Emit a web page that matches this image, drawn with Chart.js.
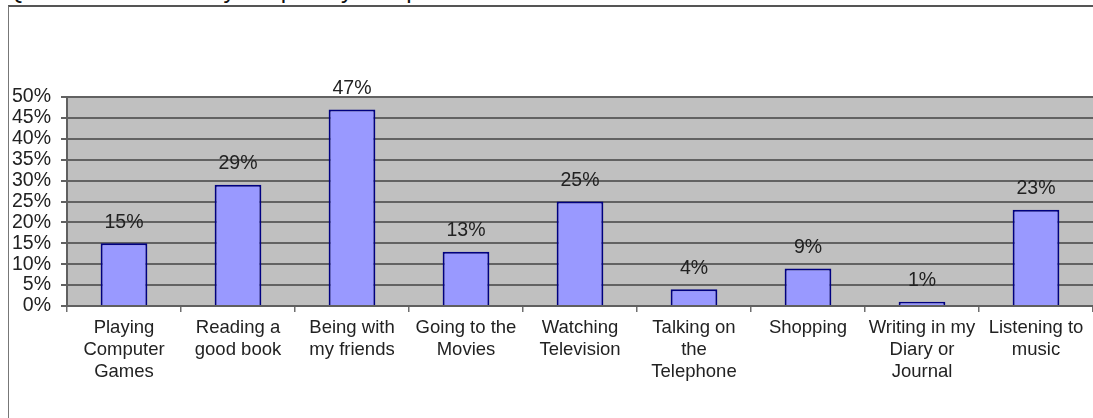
<!DOCTYPE html>
<html>
<head>
<meta charset="utf-8">
<script src="https://cdn.jsdelivr.net/npm/chart.js@4/dist/chart.umd.min.js"></script>
<style>
  html, body { margin: 0; padding: 0; background: #fff; overflow: hidden; }
  #wrap { position: relative; width: 1093px; height: 418px; }
  #question {
    position: absolute; left: 6px; top: -22px;
    font: 24px "Liberation Sans", Arial, sans-serif; line-height: 24px;
    color: #111; white-space: nowrap;
  }
  #frame {
    position: absolute; left: 8px; top: 5px; width: 1100px; height: 430px;
    border-top: 2px solid #555; border-left: 1px solid #777;
  }
  #chart { position: absolute; left: 0; top: 0; }
</style>
</head>
<body>
<div id="wrap">
  <div id="question">Question 4: How do you spend your spare time?</div>
  <div id="frame"></div>
  <canvas id="chart" width="1093" height="418"></canvas>
</div>
<script>
// categorie (gia' spezzate su piu' righe come nell'asse)
const categories = [
    ['Playing', 'Computer', 'Games'],
    ['Reading a', 'good book'],
    ['Being with', 'my friends'],
    ['Going to the', 'Movies'],
    ['Watching', 'Television'],
    ['Talking on', 'the', 'Telephone'],
    ['Shopping'],
    ['Writing in my', 'Diary or', 'Journal'],
    ['Listening to', 'music']
];
const percentages = [15, 29, 47, 13, 25, 4, 9, 1, 23];
const yTicks = [0, 5, 10, 15, 20, 25, 30, 35, 40, 45, 50];

const FONT = '"Liberation Sans", Arial, sans-serif';

// sfondo grigio dell'area del grafico
const plotBackground = {
    id: 'plotBackground',
    beforeDraw(chart) {
        const { ctx, chartArea } = chart;
        ctx.save();
        ctx.fillStyle = '#c0c0c0';
        ctx.fillRect(chartArea.left, chartArea.top, chartArea.right - chartArea.left, chartArea.bottom - chartArea.top);
        ctx.restore();
    }
};

// etichette con il valore sopra ogni barra
const valueLabels = {
    id: 'valueLabels',
    afterDatasetsDraw(chart) {
        const { ctx } = chart;
        const meta = chart.getDatasetMeta(0);
        ctx.save();
        ctx.font = '19.5px ' + FONT;
        ctx.fillStyle = '#222';
        ctx.textAlign = 'center';
        ctx.textBaseline = 'middle';
        meta.data.forEach((bar, i) => {
            ctx.fillText(percentages[i] + '%', bar.x, bar.y - 21);
        });
        ctx.restore();
    }
};

new Chart(document.getElementById('chart'), {
    type: 'bar',
    data: {
        labels: categories,
        datasets: [{
            data: percentages,
            backgroundColor: '#9999ff',
            borderColor: '#000080',
            borderWidth: 2,
            barPercentage: 0.41,
            categoryPercentage: 1
        }]
    },
    options: {
        responsive: false,
        animation: false,
        layout: { padding: { top: 97, left: 0, right: 0, bottom: 0 } },
        plugins: {
            legend: { display: false },
            tooltip: { enabled: false }
        },
        scales: {
            x: {
                afterFit: (scale) => { scale.height = 112; },
                grid: {
                    display: true,
                    drawOnChartArea: false,
                    drawTicks: true,
                    tickLength: 6,
                    color: '#6e6e6e',
                    lineWidth: 1.5
                },
                border: { display: true, color: '#606060', width: 2 },
                ticks: {
                    autoSkip: false,
                    maxRotation: 0,
                    padding: 5,
                    color: '#222',
                    font: { family: FONT, size: 18.5, lineHeight: 1.19 }
                }
            },
            y: {
                min: 0,
                max: 50,
                afterFit: (scale) => { scale.width = 67; },
                afterBuildTicks: (scale) => {
                    scale.ticks = yTicks.map(v => ({ value: v }));
                },
                grid: {
                    color: '#626262',
                    lineWidth: 2,
                    tickLength: 6
                },
                border: { display: true, color: '#606060', width: 2 },
                ticks: {
                    autoSkip: false,
                    padding: 10,
                    color: '#222',
                    font: { family: FONT, size: 19.5 },
                    callback: (v) => v + '%'
                }
            }
        }
    },
    plugins: [plotBackground, valueLabels]
});
</script>
</body>
</html>
